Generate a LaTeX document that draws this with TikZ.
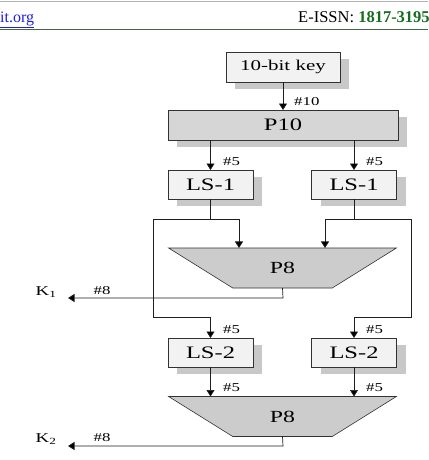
\documentclass[tikz,border=0pt]{standalone}
\usepackage{fontspec}
\setmainfont{Liberation Serif}
\newfontfamily\dg[FakeStretch=1.4]{Liberation Serif}
\usetikzlibrary{arrows.meta,shapes.geometric,shadows}
\definecolor{hdrgreen}{RGB}{70,100,70}
\definecolor{issngreen}{RGB}{20,110,30}
\definecolor{linkblue}{RGB}{30,30,220}
\definecolor{boxfill}{RGB}{242,242,242}
\definecolor{p10fill}{RGB}{214,214,214}
\definecolor{p8fill}{RGB}{204,204,204}
\definecolor{shadowgray}{RGB}{200,200,200}
\definecolor{edge}{RGB}{50,50,50}
\definecolor{wirec}{RGB}{30,30,30}
\tikzset{
  shadowed/.style={drop shadow={shadow xshift=9pt, shadow yshift=-7pt, fill=shadowgray, opacity=1}},
  keybox/.style={draw=edge, fill=boxfill, line width=0.6pt, inner sep=0pt, outer sep=0pt, shadowed,
    minimum width=114pt, minimum height=30pt, font=\dg\fontsize{15}{15}\selectfont},
  permbox/.style={draw=edge, fill=p10fill, line width=0.6pt, inner sep=0pt, outer sep=0pt, shadowed,
    minimum width=230pt, minimum height=30pt, font=\dg\fontsize{17.5}{17.5}\selectfont},
  lsbox/.style={draw=edge, fill=boxfill, line width=0.6pt, inner sep=0pt, outer sep=0pt, shadowed,
    minimum width=85pt, minimum height=29pt, font=\dg\fontsize{17.5}{17.5}\selectfont},
  trap/.style={draw=edge, fill=p8fill, line width=0.6pt, trapezium, trapezium stretches=true,
    trapezium left angle=35.3, trapezium right angle=35.3, shape border rotate=180,
    minimum width=229pt, minimum height=40pt, inner sep=0pt, outer sep=0pt,
    font=\dg\fontsize{17}{17}\selectfont},
  wire/.style={draw=wirec, line width=0.7pt},
  arr/.style={wire, -{Triangle[length=6.5pt,width=8pt,fill=black]}},
  lbl/.style={font=\dg\fontsize{12}{12}\selectfont, inner sep=0pt},
  klbl/.style={font=\dg\fontsize{13.5}{13.5}\selectfont, inner sep=0pt},
}
\begin{document}
\begin{tikzpicture}[x=1pt,y=-1pt]
\useasboundingbox (0,0) rectangle (428,460);
\clip (0,0) rectangle (428,460);
\fill[white] (0,0) rectangle (428,460);
% header
\draw[gray!60, line width=0.8pt] (0,1) -- (428,1);
\draw[hdrgreen, line width=1pt] (0,30) -- (428,30);
\node[anchor=base west, inner sep=0pt, text=linkblue, font=\fontsize{16}{16}\selectfont] (url) at (0,22.5) {\underline{it.org}};
\node[anchor=base west, inner sep=0pt, font=\fontsize{16.5}{16.5}\selectfont] (issn) at (298,22.5) {E-ISSN: \textcolor{issngreen}{\textbf{1817-3195}}};
% boxes
\node[keybox] (key) at (283,67) {10-bit key};
\node[permbox] (p10) at (283,125) {P10};
\node[lsbox] (ls1l) at (210.5,184.5) {LS-1};
\node[lsbox] (ls1r) at (354,184.5) {LS-1};
\node[trap] (p8a) at (282.5,268) {P8};
\node[lsbox] (ls2l) at (210.5,352.5) {LS-2};
\node[lsbox] (ls2r) at (354,352.5) {LS-2};
\node[trap] (p8b) at (282.5,416.5) {P8};
% coordinates
\coordinate (jl) at (210.5,219);
\coordinate (jll) at (153,219);
\coordinate (jlr) at (239,219);
\coordinate (bl) at (153,317);
\coordinate (bl2) at (210.5,317);
\coordinate (jr) at (354,219);
\coordinate (jrl) at (325,219);
\coordinate (jrr) at (411,219);
\coordinate (br) at (411,317);
\coordinate (br2) at (354,317);
\coordinate (k1c) at (283,298);
\coordinate (k1) at (68,298);
\coordinate (k2c) at (283,446);
\coordinate (k2) at (68,446);
% connectors
\draw[arr] (key.south) -- (p10.north);
\draw[arr] (p10.south -| ls1l) -- (ls1l.north);
\draw[arr] (p10.south -| ls1r) -- (ls1r.north);
\draw[wire] (ls1l.south) -- (jl);
\draw[wire] (jll) -- (jlr);
\draw[arr] (jlr) -- (jlr |- p8a.north);
\draw[arr] (jll) -- (bl) -- (bl2) -- (ls2l.north);
\draw[wire] (ls1r.south) -- (jr);
\draw[wire] (jrl) -- (jrr);
\draw[arr] (jrl) -- (jrl |- p8a.north);
\draw[arr] (jrr) -- (br) -- (br2) -- (ls2r.north);
\draw[arr] (p8a.south) -- (k1c) -- (k1);
\draw[arr] (ls2l.south) -- (ls2l.south |- p8b.north);
\draw[arr] (ls2r.south) -- (ls2r.south |- p8b.north);
\draw[arr] (p8b.south) -- (k2c) -- (k2);
% labels
\node[lbl, anchor=west] (l10) at (294,102) {\#10};
\node[lbl, anchor=west] (l5a) at (223,162) {\#5};
\node[lbl, anchor=west] (l5b) at (366,162) {\#5};
\node[lbl, anchor=west] (l5c) at (223,330) {\#5};
\node[lbl, anchor=west] (l5d) at (366,330) {\#5};
\node[lbl, anchor=west] (l5e) at (223,388) {\#5};
\node[lbl, anchor=west] (l5f) at (366,388) {\#5};
\node[lbl] (l8a) at (102,291) {\#8};
\node[lbl] (l8b) at (102,437.5) {\#8};
\node[klbl] (k1t) at (46,292) {K\textsubscript{1}};
\node[klbl] (k2t) at (46,439) {K\textsubscript{2}};
\end{tikzpicture}
\end{document}
